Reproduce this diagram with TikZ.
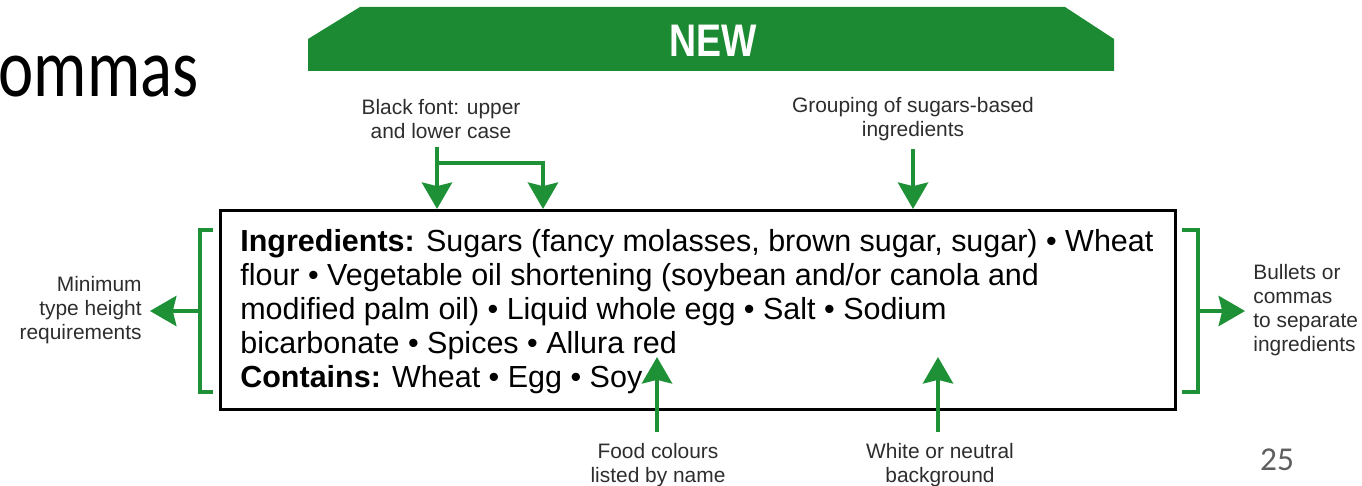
\documentclass[tikz,border=0pt]{standalone}
\usepackage{fontspec}
\setmainfont{Liberation Sans}
\newfontfamily\slidefont{Carlito}
\usetikzlibrary{arrows.meta,positioning}
\definecolor{GuideGreen}{RGB}{30,145,55}
\definecolor{BannerGreen}{RGB}{28,138,50}
\definecolor{NoteGray}{RGB}{45,45,45}
\definecolor{PageGray}{RGB}{95,95,95}

\begin{document}
\begin{tikzpicture}[x=0.02cm,y=-0.02cm,
  note/.style={font=\fontsize{11.9}{13.6}\selectfont,text=NoteGray,inner sep=0pt},
  pointer/.style={GuideGreen,line width=2.8pt,-{Stealth[length=15pt,width=17pt,inset=2pt]}},
  bracket/.style={GuideGreen,line width=2.3pt}]
\useasboundingbox (0,0) rectangle (1362,486);
% slide title remnant and page number
\node[anchor=base east,inner sep=0pt,font=\slidefont\fontsize{38}{38}\selectfont] (title) at (199,97) {\scalebox{1}[1.25]{ommas}};
\node[font=\slidefont\fontsize{19}{19}\selectfont,text=PageGray] (page) at (1277,460) {25};
% banner
\fill[BannerGreen] (308,71) -- (308,39) -- (360,7) -- (1065,7) -- (1114,39) -- (1114,71) -- cycle;
\node[white,font=\bfseries\fontsize{26}{26}\selectfont] (new) at (713,41) {\scalebox{0.82}[1]{NEW}};
% label box
\node[draw,line width=1.7pt,minimum width=19.1cm,minimum height=3.98cm,anchor=north west] (box) at (219,209) {};
\node[anchor=north west,inner sep=0pt,align=left,font=\fontsize{17.35}{19.3}\selectfont] (ingr) at (240,229) {\textbf{Ingredients:} Sugars (fancy molasses, brown sugar, sugar) \textbullet{} Wheat\\
flour \textbullet{} Vegetable oil shortening (soybean and/or canola and\\
modified palm oil) \textbullet{} Liquid whole egg \textbullet{} Salt \textbullet{} Sodium\\
bicarbonate \textbullet{} Spices \textbullet{} Allura red\\
\textbf{Contains:} Wheat \textbullet{} Egg \textbullet{} Soy};
% side brackets
\draw[bracket] (213,230) -- (200,230) -- (200,392) -- (213,392);
\draw[bracket] (1182,230) -- (1198,230) -- (1198,392) -- (1182,392);
\coordinate (lmid) at (200,311);
\coordinate (rmid) at (1198,311);
\node[note,align=right,anchor=east] (minlbl) at (142,310) {Minimum\\type height\\requirements};
\node[note,align=left,anchor=west] (seplbl) at (1253,310) {Bullets or\\commas\\to separate\\ingredients};
\draw[pointer,shorten >=4.5pt] (lmid) -- (lmid -| minlbl.east);
\draw[pointer,shorten >=4.5pt] (rmid) -- (rmid -| seplbl.west);
% top notes
\node[note,align=center] (blackfont) at (441,119) {Black font: upper\\and lower case};
\node[note,align=center] (grouping) at (913,119) {Grouping of sugars-based\\ingredients};
\coordinate (upper) at (437,207);
\coordinate (lower) at (543,207);
\coordinate (fork) at (437,163);
\draw[pointer,shorten <=4.5pt] (blackfont.south -| upper) -- (upper |- box.north);
\draw[pointer] (fork) -- (fork -| lower) -- (lower |- box.north);
\draw[pointer,shorten <=4.5pt] (grouping.south) -- (grouping.south |- box.north);
% bottom notes
\node[note,align=center] (foodcol) at (658,465) {Food colours\\listed by name};
\node[note,align=center] (bgnote) at (940,465) {White or neutral\\background};
\coordinate (redtip) at (657,357);
\coordinate (bgtip) at (938,357);
\draw[pointer,shorten <=6pt] (foodcol.north -| redtip) -- (redtip);
\draw[pointer,shorten <=6pt] (bgnote.north -| bgtip) -- (bgtip);
\end{tikzpicture}
\end{document}
